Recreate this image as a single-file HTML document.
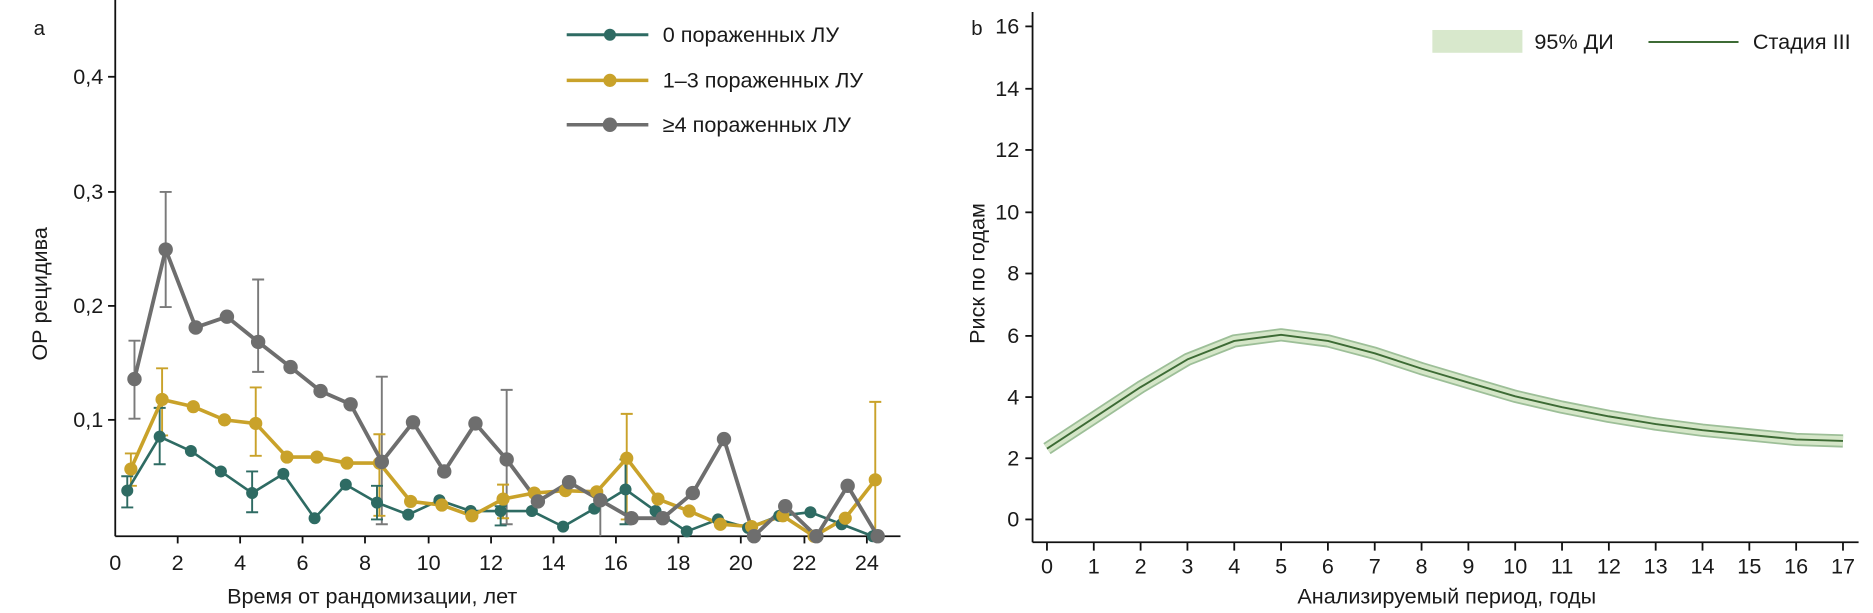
<!DOCTYPE html>
<html><head><meta charset="utf-8"><style>
html,body{margin:0;padding:0;background:#fff;}
svg{display:block;}
text{font-family:"Liberation Sans Narrow","Liberation Sans",sans-serif;fill:#1a1a1a;}
</style></head><body>
<svg width="1873" height="613" viewBox="0 0 1560 511" preserveAspectRatio="none" xmlns="http://www.w3.org/2000/svg">
<rect width="1560" height="511" fill="#fff"/>
<!-- LEFT CHART -->
<text x="28" y="29" font-size="17">a</text>
<g stroke="#111" stroke-width="1.5">
<line x1="96" y1="0" x2="96" y2="447"/>
<line x1="96" y1="447" x2="750" y2="447"/>
<line x1="90" y1="64" x2="96" y2="64"/><line x1="90" y1="160" x2="96" y2="160"/>
<line x1="90" y1="255" x2="96" y2="255"/><line x1="90" y1="350" x2="96" y2="350"/>
<line x1="148" y1="447" x2="148" y2="453"/><line x1="200" y1="447" x2="200" y2="453"/>
<line x1="252" y1="447" x2="252" y2="453"/><line x1="304" y1="447" x2="304" y2="453"/>
<line x1="357" y1="447" x2="357" y2="453"/><line x1="409" y1="447" x2="409" y2="453"/>
<line x1="461" y1="447" x2="461" y2="453"/><line x1="513" y1="447" x2="513" y2="453"/>
<line x1="565" y1="447" x2="565" y2="453"/><line x1="617" y1="447" x2="617" y2="453"/>
<line x1="670" y1="447" x2="670" y2="453"/><line x1="722" y1="447" x2="722" y2="453"/>
</g>
<g font-size="18" text-anchor="end">
<text x="86" y="70">0,4</text><text x="86" y="166">0,3</text><text x="86" y="261">0,2</text><text x="86" y="356">0,1</text>
</g>
<g font-size="18" text-anchor="middle">
<text x="96" y="475">0</text><text x="148" y="475">2</text><text x="200" y="475">4</text><text x="252" y="475">6</text>
<text x="304" y="475">8</text><text x="357" y="475">10</text><text x="409" y="475">12</text><text x="461" y="475">14</text>
<text x="513" y="475">16</text><text x="565" y="475">18</text><text x="617" y="475">20</text><text x="670" y="475">22</text>
<text x="722" y="475">24</text>
<text x="310" y="503">Время от рандомизации, лет</text>
</g>
<text transform="translate(39,245) rotate(-90)" font-size="18" text-anchor="middle">ОР рецидива</text>
<!-- error bars -->
<g stroke="#7a7a7a" stroke-width="1.6" fill="none">
<path d="M112 284V349M107 284h10M107 349h10"/>
<path d="M138 160V256M133 160h10M133 256h10"/>
<path d="M215 233V310M210 233h10M210 310h10"/>
<path d="M318 314V437M313 314h10M313 437h10"/>
<path d="M422 325V437M417 325h10M417 437h10"/>
<path d="M500 415V447M495 415h10"/>
</g>
<g stroke="#c9a22a" stroke-width="1.6" fill="none">
<path d="M109 378V405M104 378h10M104 405h10"/>
<path d="M135 307V363M130 307h10M130 363h10"/>
<path d="M213 323V380M208 323h10M208 380h10"/>
<path d="M316 362V430M311 362h10M311 430h10"/>
<path d="M419 404V432M414 404h10M414 432h10"/>
<path d="M522 345V433M517 345h10M517 433h10"/>
<path d="M729 335V447M724 335h10"/>
</g>
<g stroke="#2e6b63" stroke-width="1.6" fill="none">
<path d="M106 397V423M101 397h10M101 423h10"/>
<path d="M133 340V387M128 340h10M128 387h10"/>
<path d="M210 393V427M205 393h10M205 427h10"/>
<path d="M314 405V433M309 405h10M309 433h10"/>
<path d="M417 422V438M412 422h10M412 438h10"/>
<path d="M521 383V437M516 383h10M516 437h10"/>
</g>
<!-- series -->
<g fill="none" stroke-linejoin="round">
<polyline stroke="#2e6b63" stroke-width="2.2" points="106,409 133,364 159,376 184,393 210,411 236,395 262,432 288,404 314,419 340,429 366,417 392,426 417,426 443,426 469,439 495,424 521,408 546,426 572,443 598,433 623,440 649,430 675,427 701,437 727,447"/>
<polyline stroke="#c9a22a" stroke-width="3" points="109,391 135,333 161,339 187,350 213,353 239,381 264,381 289,386 316,386 342,418 368,421 393,430 419,416 445,411 471,409 497,410 522,382 548,416 574,426 600,437 626,439 652,430 678,447 704,432 729,400"/>
<polyline stroke="#6e6e6e" stroke-width="3.2" points="112,316 138,208 163,273 189,264 215,285 242,306 267,326 292,337 318,385 344,352 370,393 396,353 422,383 448,418 474,402 500,417 526,432 552,432 577,411 603,366 628,447 654,422 680,447 706,405 731,447"/>
</g>
<g fill="#2e6b63">
<circle cx="106" cy="409" r="5"/><circle cx="133" cy="364" r="5"/><circle cx="159" cy="376" r="5"/><circle cx="184" cy="393" r="5"/><circle cx="210" cy="411" r="5"/><circle cx="236" cy="395" r="5"/><circle cx="262" cy="432" r="5"/><circle cx="288" cy="404" r="5"/><circle cx="314" cy="419" r="5"/><circle cx="340" cy="429" r="5"/><circle cx="366" cy="417" r="5"/><circle cx="392" cy="426" r="5"/><circle cx="417" cy="426" r="5"/><circle cx="443" cy="426" r="5"/><circle cx="469" cy="439" r="5"/><circle cx="495" cy="424" r="5"/><circle cx="521" cy="408" r="5"/><circle cx="546" cy="426" r="5"/><circle cx="572" cy="443" r="5"/><circle cx="598" cy="433" r="5"/><circle cx="623" cy="440" r="5"/><circle cx="649" cy="430" r="5"/><circle cx="675" cy="427" r="5"/><circle cx="701" cy="437" r="5"/><circle cx="727" cy="447" r="5"/>
</g>
<g fill="#c9a22a">
<circle cx="109" cy="391" r="5.5"/><circle cx="135" cy="333" r="5.5"/><circle cx="161" cy="339" r="5.5"/><circle cx="187" cy="350" r="5.5"/><circle cx="213" cy="353" r="5.5"/><circle cx="239" cy="381" r="5.5"/><circle cx="264" cy="381" r="5.5"/><circle cx="289" cy="386" r="5.5"/><circle cx="316" cy="386" r="5.5"/><circle cx="342" cy="418" r="5.5"/><circle cx="368" cy="421" r="5.5"/><circle cx="393" cy="430" r="5.5"/><circle cx="419" cy="416" r="5.5"/><circle cx="445" cy="411" r="5.5"/><circle cx="471" cy="409" r="5.5"/><circle cx="497" cy="410" r="5.5"/><circle cx="522" cy="382" r="5.5"/><circle cx="548" cy="416" r="5.5"/><circle cx="574" cy="426" r="5.5"/><circle cx="600" cy="437" r="5.5"/><circle cx="626" cy="439" r="5.5"/><circle cx="652" cy="430" r="5.5"/><circle cx="678" cy="447" r="5.5"/><circle cx="704" cy="432" r="5.5"/><circle cx="729" cy="400" r="5.5"/>
</g>
<g fill="#6e6e6e">
<circle cx="112" cy="316" r="6"/><circle cx="138" cy="208" r="6"/><circle cx="163" cy="273" r="6"/><circle cx="189" cy="264" r="6"/><circle cx="215" cy="285" r="6"/><circle cx="242" cy="306" r="6"/><circle cx="267" cy="326" r="6"/><circle cx="292" cy="337" r="6"/><circle cx="318" cy="385" r="6"/><circle cx="344" cy="352" r="6"/><circle cx="370" cy="393" r="6"/><circle cx="396" cy="353" r="6"/><circle cx="422" cy="383" r="6"/><circle cx="448" cy="418" r="6"/><circle cx="474" cy="402" r="6"/><circle cx="500" cy="417" r="6"/><circle cx="526" cy="432" r="6"/><circle cx="552" cy="432" r="6"/><circle cx="577" cy="411" r="6"/><circle cx="603" cy="366" r="6"/><circle cx="628" cy="447" r="6"/><circle cx="654" cy="422" r="6"/><circle cx="680" cy="447" r="6"/><circle cx="706" cy="405" r="6"/><circle cx="731" cy="447" r="6"/>
</g>
<!-- left legend -->
<line x1="472" y1="29" x2="540" y2="29" stroke="#2e6b63" stroke-width="2.5"/><circle cx="508" cy="29" r="5" fill="#2e6b63"/>
<line x1="472" y1="67" x2="540" y2="67" stroke="#c9a22a" stroke-width="3"/><circle cx="508" cy="67" r="5.5" fill="#c9a22a"/>
<line x1="472" y1="104" x2="540" y2="104" stroke="#6e6e6e" stroke-width="3"/><circle cx="508" cy="104" r="6" fill="#6e6e6e"/>
<g font-size="18"><text x="552" y="35">0 пораженных ЛУ</text><text x="552" y="73">1–3 пораженных ЛУ</text><text x="552" y="110">≥4 пораженных ЛУ</text></g>

<!-- RIGHT CHART -->
<text x="809" y="29" font-size="17">b</text>
<g stroke="#111" stroke-width="1.5">
<line x1="860" y1="10" x2="860" y2="452"/>
<line x1="860" y1="452" x2="1548" y2="452"/>
<line x1="854" y1="22" x2="860" y2="22"/><line x1="854" y1="74" x2="860" y2="74"/><line x1="854" y1="125" x2="860" y2="125"/>
<line x1="854" y1="177" x2="860" y2="177"/><line x1="854" y1="228" x2="860" y2="228"/><line x1="854" y1="280" x2="860" y2="280"/>
<line x1="854" y1="331" x2="860" y2="331"/><line x1="854" y1="382" x2="860" y2="382"/><line x1="854" y1="433" x2="860" y2="433"/>
<path d="M872 452v7M911 452v7M950 452v7M989 452v7M1028 452v7M1067 452v7M1106 452v7M1145 452v7M1184 452v7M1223 452v7M1262 452v7M1301 452v7M1340 452v7M1379 452v7M1418 452v7M1457 452v7M1496 452v7M1535 452v7"/>
</g>
<g font-size="18" text-anchor="end">
<text x="849" y="28">16</text><text x="849" y="80">14</text><text x="849" y="131">12</text><text x="849" y="183">10</text>
<text x="849" y="234">8</text><text x="849" y="286">6</text><text x="849" y="337">4</text><text x="849" y="388">2</text><text x="849" y="439">0</text>
</g>
<g font-size="18" text-anchor="middle">
<text x="872" y="478">0</text><text x="911" y="478">1</text><text x="950" y="478">2</text><text x="989" y="478">3</text><text x="1028" y="478">4</text>
<text x="1067" y="478">5</text><text x="1106" y="478">6</text><text x="1145" y="478">7</text><text x="1184" y="478">8</text><text x="1223" y="478">9</text>
<text x="1262" y="478">10</text><text x="1301" y="478">11</text><text x="1340" y="478">12</text><text x="1379" y="478">13</text><text x="1418" y="478">14</text>
<text x="1457" y="478">15</text><text x="1496" y="478">16</text><text x="1535" y="478">17</text>
<text x="1205" y="503">Анализируемый период, годы</text>
</g>
<text transform="translate(820,228) rotate(-90)" font-size="18" text-anchor="middle">Риск по годам</text>
<g fill="none" stroke-linejoin="round" stroke-linecap="butt">
<polyline stroke="#9dbf98" stroke-width="11" points="872,374 911,348.4 950,322.7 989,299.6 1028,284.2 1067,279.1 1106,284.2 1145,294.5 1184,307.3 1223,318.9 1262,330.4 1301,339.4 1340,347.1 1379,353.5 1418,358.6 1457,362.5 1496,366.3 1535,367.6"/>
<polyline stroke="#d5e6c8" stroke-width="8" points="872,374 911,348.4 950,322.7 989,299.6 1028,284.2 1067,279.1 1106,284.2 1145,294.5 1184,307.3 1223,318.9 1262,330.4 1301,339.4 1340,347.1 1379,353.5 1418,358.6 1457,362.5 1496,366.3 1535,367.6"/>
<polyline stroke="#3d6b35" stroke-width="1.6" points="872,374 911,348.4 950,322.7 989,299.6 1028,284.2 1067,279.1 1106,284.2 1145,294.5 1184,307.3 1223,318.9 1262,330.4 1301,339.4 1340,347.1 1379,353.5 1418,358.6 1457,362.5 1496,366.3 1535,367.6"/>
</g>
<rect x="1193" y="25" width="75" height="19" fill="#d8e8cc"/>
<line x1="1373" y1="35" x2="1448" y2="35" stroke="#3d6b35" stroke-width="1.6"/>
<g font-size="18"><text x="1278" y="41">95% ДИ</text><text x="1460" y="41">Стадия III</text></g>
</svg>
</body></html>
